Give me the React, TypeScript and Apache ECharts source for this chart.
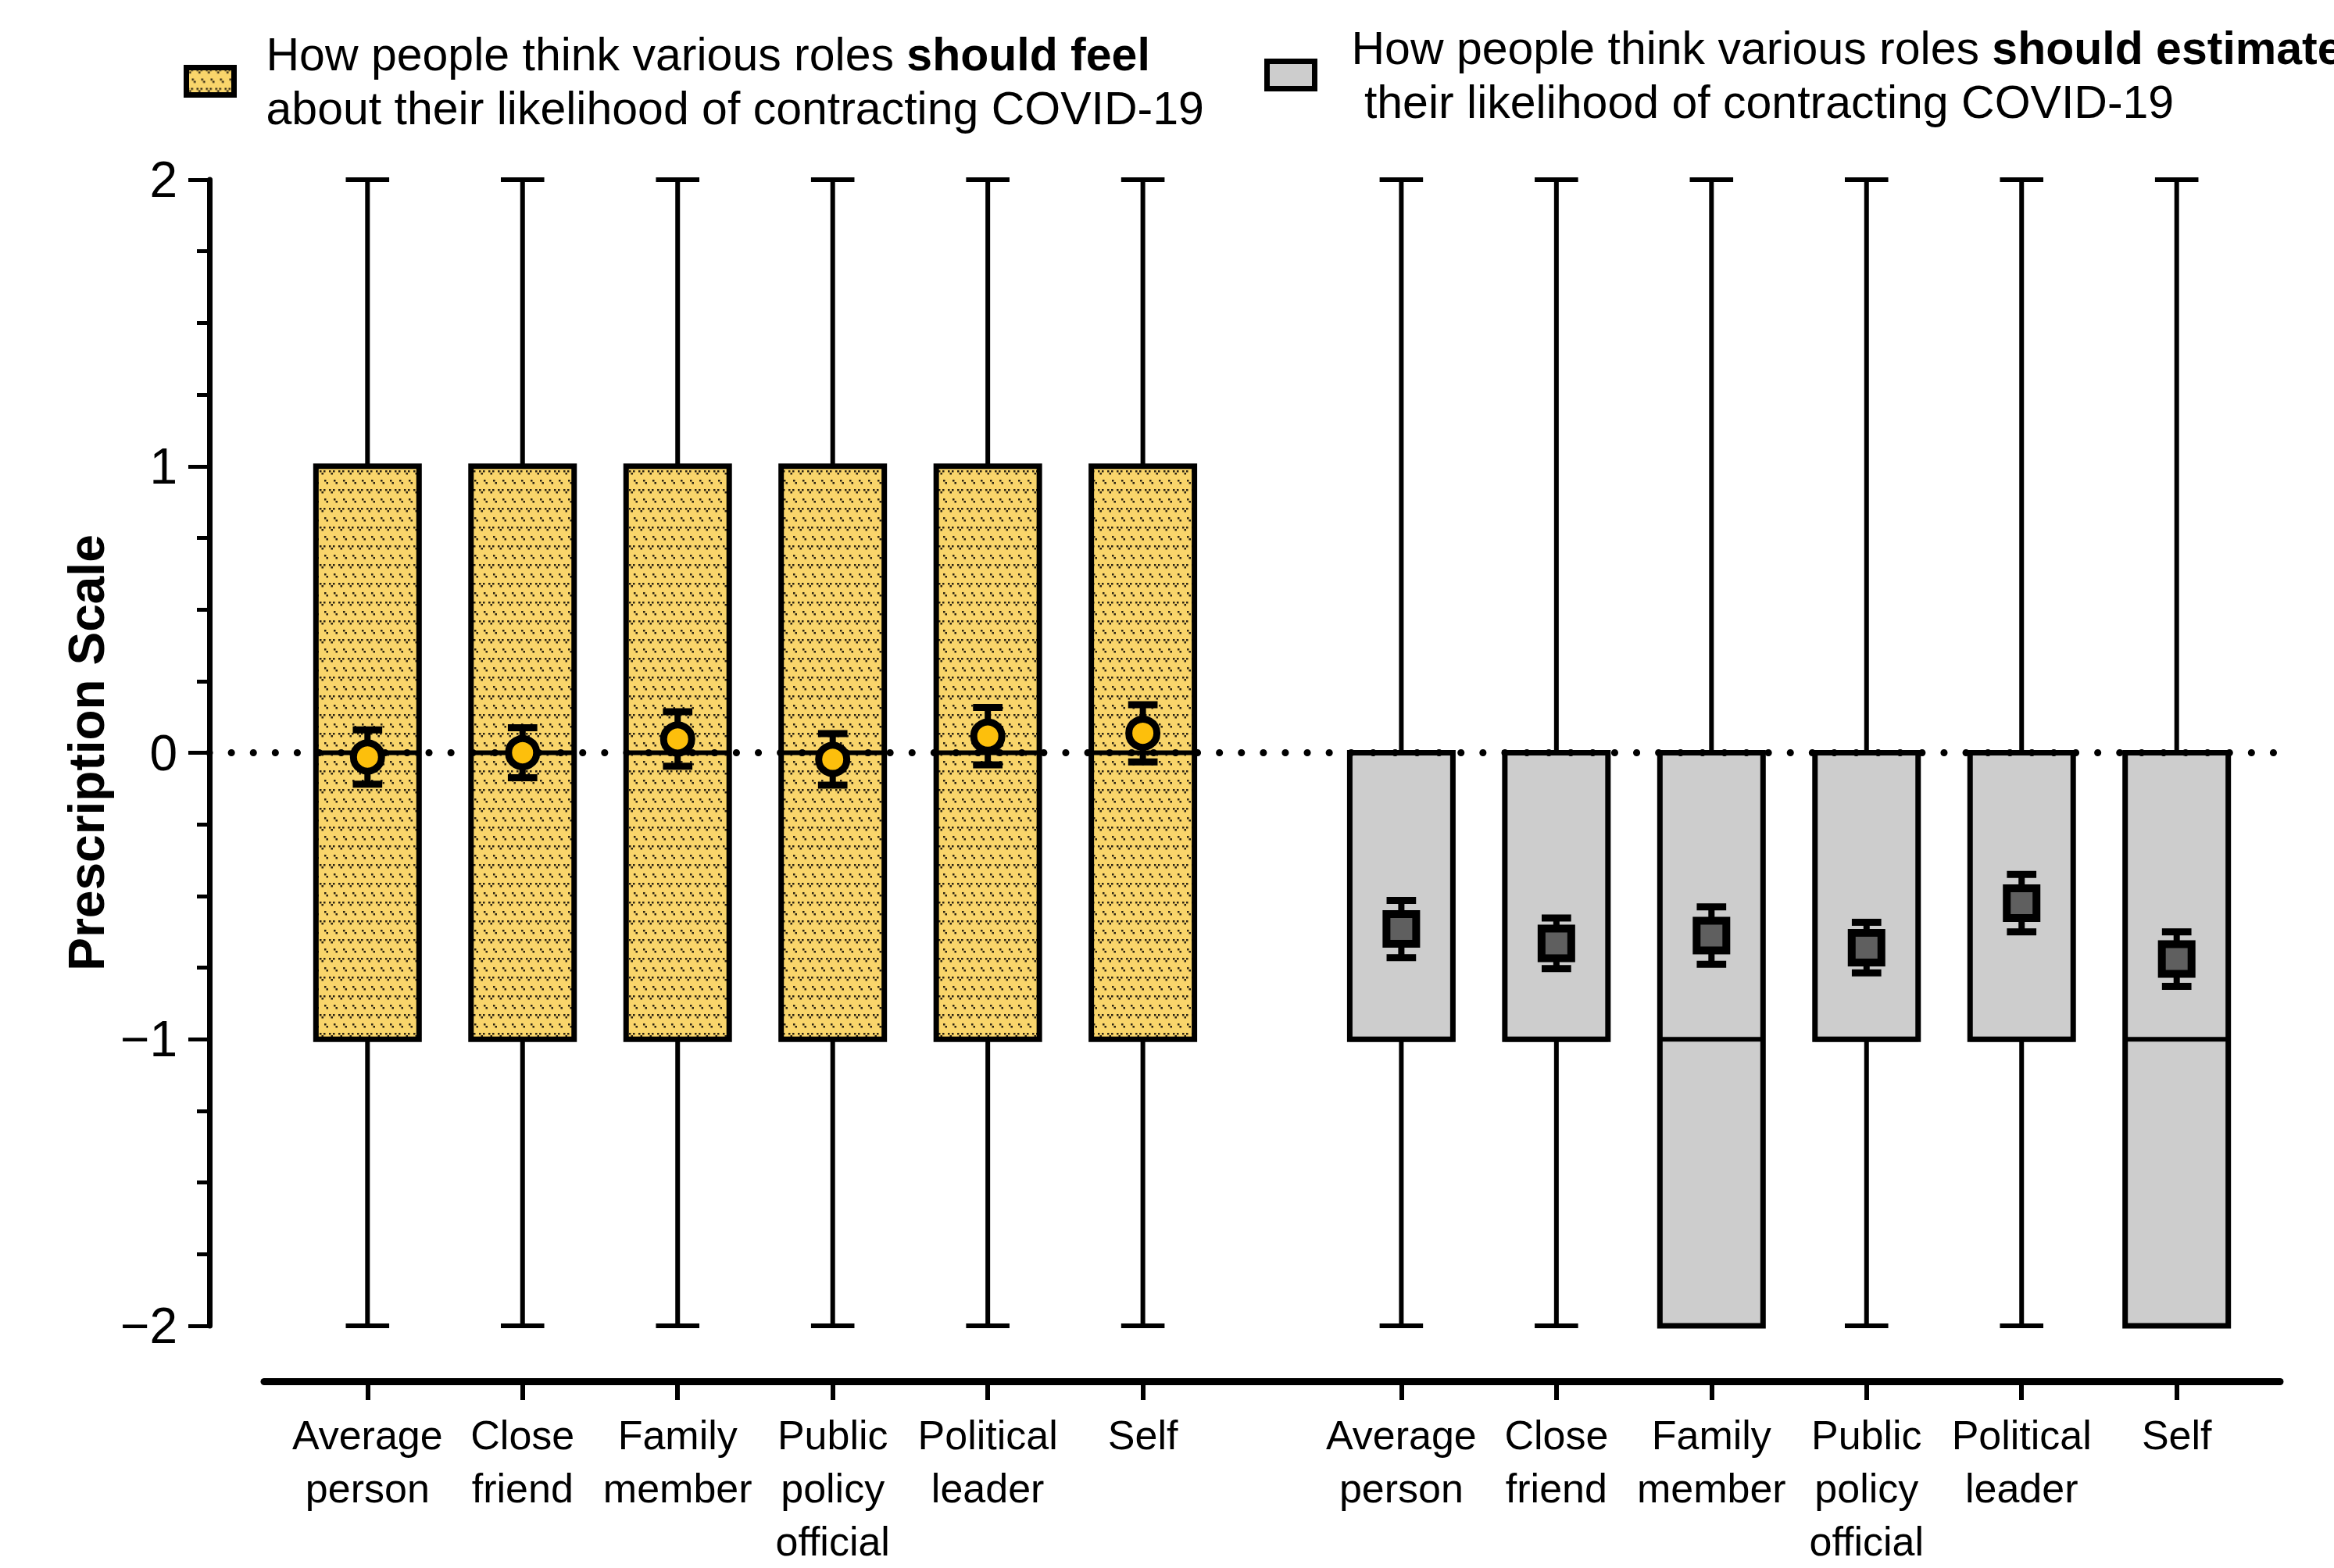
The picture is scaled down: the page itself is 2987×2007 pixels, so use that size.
import React, { useEffect, useRef } from "react";
import * as echarts from "echarts";

// ---------- data ----------
const roles = [
  "Average\nperson",
  "Close\nfriend",
  "Family\nmember",
  "Public\npolicy\nofficial",
  "Political\nleader",
  "Self",
];

// "should feel" group (box: min, Q1, median, Q3, max)
const feelMin = [-2, -2, -2, -2, -2, -2];
const feelQ1 = [-1, -1, -1, -1, -1, -1];
const feelMedian = [0, 0, 0, 0, 0, 0];
const feelQ3 = [1, 1, 1, 1, 1, 1];
const feelMax = [2, 2, 2, 2, 2, 2];
const feelMean = [-0.015, 0.0, 0.048, -0.023, 0.058, 0.068];
const feelErr = [0.095, 0.087, 0.095, 0.09, 0.1, 0.1];

// "should estimate" group
const estMin = [-2, -2, -2, -2, -2, -2];
const estQ1 = [-1, -1, -2, -1, -1, -2];
const estMedian = [-1, -1, -1, -1, -1, -1];
const estQ3 = [0, 0, 0, 0, 0, 0];
const estMax = [2, 2, 2, 2, 2, 2];
const estMean = [-0.615, -0.665, -0.638, -0.68, -0.525, -0.72];
const estErr = [0.1, 0.088, 0.1, 0.088, 0.1, 0.095];

const yTicks = [-2, -1, 0, 1, 2];
const referenceLine = [0];

const feelName = "feel";
const estName = "estimate";
const legendFeel =
  "{r|How people think various roles }{b|should feel}\n{r|about their likelihood of contracting COVID-19}";
const legendEst =
  "{r|How people think various roles }{b|should estimate}\n{r| their likelihood of contracting COVID-19}";

// ---------- layout constants ----------
const GROUP_GAP = 2 / 3;
const EDGE_PAD = 2 / 3;
const BOX_WIDTH = 0.665;
const WHISKER_CAP = 0.28;
const MEAN_CAP = 0.19;
const Y_AXIS_OFFSET = 70;

const feelPos = roles.map((_, i) => i);
const estPos = roles.map((_, i) => roles.length + GROUP_GAP + i);
const allPos = [...feelPos, ...estPos];
const allLabels = [...roles, ...roles];

const SANS = "'Liberation Sans', Arial, sans-serif";

function labelFor(v: number) {
  let best = 0;
  let bd = Infinity;
  allPos.forEach((p, i) => {
    const d = Math.abs(p - v);
    if (d < bd) {
      bd = d;
      best = i;
    }
  });
  return allLabels[best];
}

function makePatternCanvas() {
  const c = document.createElement("canvas");
  c.width = 12;
  c.height = 24;
  const ctx = c.getContext("2d")!;
  ctx.fillStyle = "#F9D56B";
  ctx.fillRect(0, 0, 12, 24);
  ctx.fillStyle = "#2a2212";
  const v = (ox: number, oy: number) => {
    ctx.fillRect(ox, oy, 2.5, 2.5);
    ctx.fillRect(ox + 5, oy, 2.5, 2.5);
    ctx.fillRect(ox + 2.5, oy + 3, 2.5, 2.5);
  };
  v(1, 2);
  v(7, 14);
  return c;
}

function makeBoxRenderer(fill: any) {
  return (params: any, api: any) => {
    const x = api.value(0);
    const vMin = api.value(1);
    const q1 = api.value(2);
    const med = api.value(3);
    const q3 = api.value(4);
    const vMax = api.value(5);
    const cx = api.coord([x, 0])[0];
    const y = (v: number) => api.coord([x, v])[1];
    const halfBox = api.size([BOX_WIDTH, 0])[0] / 2;
    const halfCap = api.size([WHISKER_CAP, 0])[0] / 2;
    const ls = { stroke: "#000", lineWidth: 6 };
    const children: any[] = [];
    if (vMax > q3) {
      children.push({ type: "line", shape: { x1: cx, y1: y(q3), x2: cx, y2: y(vMax) }, style: ls });
      children.push({ type: "line", shape: { x1: cx - halfCap, y1: y(vMax), x2: cx + halfCap, y2: y(vMax) }, style: ls });
    }
    if (vMin < q1) {
      children.push({ type: "line", shape: { x1: cx, y1: y(q1), x2: cx, y2: y(vMin) }, style: ls });
      children.push({ type: "line", shape: { x1: cx - halfCap, y1: y(vMin), x2: cx + halfCap, y2: y(vMin) }, style: ls });
    }
    children.push({
      type: "rect",
      shape: { x: cx - halfBox, y: y(q3), width: halfBox * 2, height: y(q1) - y(q3) },
      style: { fill, stroke: "#000", lineWidth: 7 },
    });
    children.push({
      type: "line",
      shape: { x1: cx - halfBox, y1: y(med), x2: cx + halfBox, y2: y(med) },
      style: { stroke: "#000", lineWidth: 6 },
    });
    return { type: "group", children };
  };
}

function makeMeanRenderer(kind: "circle" | "square", fill: string) {
  return (params: any, api: any) => {
    const x = api.value(0);
    const m = api.value(1);
    const e = api.value(2);
    const [cx, cy] = api.coord([x, m]);
    const yTop = api.coord([x, m + e])[1];
    const yBot = api.coord([x, m - e])[1];
    const halfCap = api.size([MEAN_CAP, 0])[0] / 2;
    const children: any[] = [
      { type: "line", shape: { x1: cx, y1: yTop, x2: cx, y2: yBot }, style: { stroke: "#000", lineWidth: 8 } },
      { type: "line", shape: { x1: cx - halfCap, y1: yTop, x2: cx + halfCap, y2: yTop }, style: { stroke: "#000", lineWidth: 9 } },
      { type: "line", shape: { x1: cx - halfCap, y1: yBot, x2: cx + halfCap, y2: yBot }, style: { stroke: "#000", lineWidth: 9 } },
    ];
    if (kind === "circle") {
      children.push({ type: "circle", shape: { cx, cy, r: 18 }, style: { fill, stroke: "#000", lineWidth: 9 } });
    } else {
      children.push({ type: "rect", shape: { x: cx - 19, y: cy - 19, width: 38, height: 38 }, style: { fill, stroke: "#000", lineWidth: 10 } });
    }
    return { type: "group", children };
  };
}

export default function App() {
  const ref = useRef<HTMLDivElement>(null);
  useEffect(() => {
    document.body.style.margin = "0";
    const chart = echarts.init(ref.current!, null, { renderer: "svg" });
    const yellowPattern: any = { image: makePatternCanvas(), repeat: "repeat", imageWidth: 12, imageHeight: 24 };
    const grayFill = "#CDCDCD";

    const feelBoxes = feelPos.map((p, i) => [p, feelMin[i], feelQ1[i], feelMedian[i], feelQ3[i], feelMax[i]]);
    const estBoxes = estPos.map((p, i) => [p, estMin[i], estQ1[i], estMedian[i], estQ3[i], estMax[i]]);
    const feelMeans = feelPos.map((p, i) => [p, feelMean[i], feelErr[i]]);
    const estMeans = estPos.map((p, i) => [p, estMean[i], estErr[i]]);

    const legendText = {
      color: "#000",
      fontFamily: SANS,
      fontSize: 59,
      lineHeight: 69,
      rich: {
        r: { fontFamily: SANS, fontSize: 59, lineHeight: 69, color: "#000" },
        b: { fontFamily: SANS, fontSize: 59, lineHeight: 69, fontWeight: "bold", color: "#000" },
      },
    };

    const option: any = {
      animation: false,
      backgroundColor: "#fff",
      textStyle: { fontFamily: SANS },
      grid: { left: 338, width: 2580, top: 230, height: 1480, containLabel: false },
      legend: [
        {
          data: [{ name: feelName, icon: "rect", itemStyle: { color: yellowPattern, borderColor: "#000", borderWidth: 7 } }],
          left: 235,
          top: 35,
          padding: 0,
          itemWidth: 61,
          itemHeight: 35,
          selectedMode: false,
          formatter: () => legendFeel,
          textStyle: { ...legendText, padding: [0, 0, 0, 36] },
        },
        {
          data: [{ name: estName, icon: "rect", itemStyle: { color: grayFill, borderColor: "#000", borderWidth: 7 } }],
          left: 1618,
          top: 27,
          padding: 0,
          itemWidth: 61,
          itemHeight: 35,
          selectedMode: false,
          formatter: () => legendEst,
          textStyle: { ...legendText, padding: [0, 0, 0, 42] },
        },
      ],
      xAxis: {
        type: "value",
        min: allPos[0] - EDGE_PAD,
        max: allPos[allPos.length - 1] + EDGE_PAD,
        offset: 71,
        axisLine: { show: true, onZero: false, lineStyle: { color: "#000", width: 9 } },
        axisTick: { show: true, customValues: allPos, length: 24, lineStyle: { color: "#000", width: 6 } },
        axisLabel: {
          customValues: allPos,
          formatter: (v: number) => labelFor(v),
          margin: 35,
          fontSize: 52,
          lineHeight: 68,
          fontFamily: SANS,
          color: "#000",
        },
        splitLine: { show: false },
      },
      yAxis: {
        type: "value",
        min: yTicks[0],
        max: yTicks[yTicks.length - 1],
        interval: 1,
        offset: Y_AXIS_OFFSET,
        axisLine: { show: true, onZero: false, lineStyle: { color: "#000", width: 7 } },
        axisTick: { show: true, length: 27, lineStyle: { color: "#000", width: 5 } },
        minorTick: { show: true, splitNumber: 4, length: 16, lineStyle: { color: "#000", width: 5 } },
        axisLabel: {
          fontSize: 64,
          margin: 41,
          color: "#000",
          fontFamily: SANS,
          formatter: (v: number) => (v < 0 ? "\u2212" + Math.abs(v) : String(v)),
        },
        splitLine: { show: false },
        minorSplitLine: { show: false },
        name: "Prescription Scale",
        nameLocation: "middle",
        nameGap: 92,
        nameTextStyle: { fontSize: 64, fontWeight: "bold", color: "#000", fontFamily: SANS },
      },
      series: [
        {
          name: feelName,
          type: "custom",
          renderItem: makeBoxRenderer(yellowPattern),
          itemStyle: { color: yellowPattern, borderColor: "#000", borderWidth: 7 },
          encode: { x: 0, y: [1, 2, 3, 4, 5] },
          data: feelBoxes,
          z: 2,
        },
        {
          name: estName,
          type: "custom",
          renderItem: makeBoxRenderer(grayFill),
          itemStyle: { color: grayFill, borderColor: "#000", borderWidth: 7 },
          encode: { x: 0, y: [1, 2, 3, 4, 5] },
          data: estBoxes,
          z: 2,
        },
        {
          name: "zero",
          type: "custom",
          clip: false,
          renderItem: (params: any, api: any) => {
            const yv = api.value(0);
            const cs = params.coordSys;
            const yy = api.coord([0, yv])[1];
            return {
              type: "line",
              shape: { x1: cs.x - Y_AXIS_OFFSET, y1: yy, x2: cs.x + cs.width, y2: yy },
              style: { stroke: "#000", lineWidth: 9, lineDash: [0.1, 28], lineCap: "round" },
            };
          },
          encode: { y: 0 },
          data: referenceLine.map((v) => [v]),
          z: 3,
        },
        {
          name: "feelMean",
          type: "custom",
          renderItem: makeMeanRenderer("circle", "#FDBF0C"),
          encode: { x: 0, y: 1 },
          data: feelMeans,
          z: 4,
        },
        {
          name: "estMean",
          type: "custom",
          renderItem: makeMeanRenderer("square", "#5F5F5F"),
          encode: { x: 0, y: 1 },
          data: estMeans,
          z: 4,
        },
      ],
    };
    chart.setOption(option);
    return () => chart.dispose();
  }, []);
  return (
    <div
      ref={ref}
      style={{ position: "fixed", left: 0, top: 0, width: 2987, height: 2007, background: "#fff" }}
    />
  );
}
